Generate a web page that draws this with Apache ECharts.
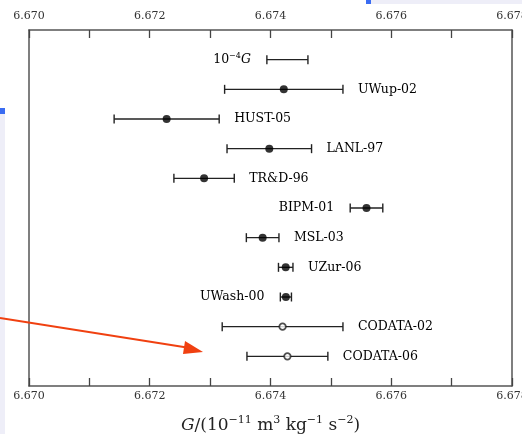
<!DOCTYPE html>
<html>
<head>
<meta charset="utf-8">
<script src="https://cdn.jsdelivr.net/npm/echarts@6/dist/echarts.min.js"></script>
<style>
html,body{margin:0;padding:0;background:#fff;}
#chart{width:522px;height:434px;}
</style>
</head>
<body>
<div id="chart"></div>
<script>
// ---- data ----
const experiments = ['10^-4 G', 'UWup-02', 'HUST-05', 'LANL-97', 'TR&D-96', 'BIPM-01', 'MSL-03', 'UZur-06', 'UWash-00', 'CODATA-02', 'CODATA-06'];
const gValues     = [6.67428, 6.67422, 6.67228, 6.67398, 6.67290, 6.67559, 6.67387, 6.674252, 6.674255, 6.67420, 6.67428];
const gErrors     = [0.00034, 0.00098, 0.00087, 0.00070, 0.00050, 0.00027, 0.00027, 0.00012, 0.000092, 0.00100, 0.00067];
const xTicks      = [6.670, 6.672, 6.674, 6.676, 6.678];
// which side each label sits on (layout)
const labelSide   = ['left', 'right', 'right', 'right', 'right', 'left', 'right', 'right', 'left', 'right', 'right'];

const FONT = 'DejaVu Serif';
const rows = experiments.map((n, i) => [gValues[i], gErrors[i], i + 1, i]);

function labelText(name) {
  if (name === '10^-4 G') return '{n|10}{s|−4}{it|G}';
  return '{n|' + name + '}';
}

const chart = echarts.init(document.getElementById('chart'), null, {renderer: 'canvas'});

const axisCommon = {
  type: 'value', min: 6.670, max: 6.678, interval: 0.001,
  axisLine: {show: true, onZero: false, lineStyle: {color: '#555', width: 1.5}},
  axisTick: {show: true, inside: true, length: 8, lineStyle: {color: '#444', width: 1.3}},
  splitLine: {show: false},
  axisLabel: {
    fontFamily: FONT, fontSize: 11, color: '#333',
    formatter: v => {
      const k = Math.round(v * 1000);
      return xTicks.some(t => Math.round(t * 1000) === k) ? (k / 1000).toFixed(3) : '';
    }
  }
};

const option = {
  animation: false,
  backgroundColor: '#fff',
  grid: {left: 29, right: 10, top: 30, bottom: 48, containLabel: false, outerBoundsMode: 'none'},
  xAxis: [
    Object.assign({}, axisCommon, {
      position: 'bottom',
      axisLabel: Object.assign({}, axisCommon.axisLabel, {margin: 5}),
      name: '{it|G}{n|/(10}{s|−11}{n| m}{s|3}{n| kg}{s|−1}{n| s}{s|−2}{n|)}',
      nameLocation: 'middle', nameGap: 29,
      nameTextStyle: {
        rich: {
          it: {fontFamily: FONT, fontStyle: 'italic', fontSize: 17, color: '#222', lineHeight: 22},
          n: {fontFamily: FONT, fontSize: 17, color: '#222', lineHeight: 22},
          s: {fontFamily: FONT, fontSize: 11, color: '#222', verticalAlign: 'top', lineHeight: 22}
        }
      }
    }),
    Object.assign({}, axisCommon, {
      position: 'top',
      axisLabel: Object.assign({}, axisCommon.axisLabel, {margin: 8})
    })
  ],
  yAxis: [
    {type: 'value', min: 0, max: 12, inverse: true, position: 'left',
     axisLine: {show: true, onZero: false, lineStyle: {color: '#555', width: 1.5}},
     axisTick: {show: false}, axisLabel: {show: false}, splitLine: {show: false}},
    {type: 'value', min: 0, max: 12, inverse: true, position: 'right',
     axisLine: {show: true, onZero: false, lineStyle: {color: '#555', width: 1.5}},
     axisTick: {show: false}, axisLabel: {show: false}, splitLine: {show: false}}
  ],
  series: [
    {
      type: 'custom',
      xAxisIndex: 0, yAxisIndex: 0,
      data: rows,
      renderItem: function (params, api) {
        const c = api.value(0), e = api.value(1), r = api.value(2), idx = api.value(3);
        const p0 = api.coord([c - e, r]);
        const p1 = api.coord([c + e, r]);
        const y = p0[1];
        const cap = 4.5;
        const side = labelSide[idx];
        const ls = {stroke: '#222', lineWidth: 1.4};
        const children = [
          {type: 'line', shape: {x1: p0[0], y1: y, x2: p1[0], y2: y}, style: ls},
          {type: 'line', shape: {x1: p0[0], y1: y - cap, x2: p0[0], y2: y + cap}, style: ls},
          {type: 'line', shape: {x1: p1[0], y1: y - cap, x2: p1[0], y2: y + cap}, style: ls},
          {type: 'text',
           x: side === 'right' ? p1[0] + 15 : p0[0] - 16, y: y,
           style: {
             text: labelText(experiments[idx]),
             align: side === 'right' ? 'left' : 'right',
             verticalAlign: 'middle',
             rich: {
               n: {fontFamily: FONT, fontSize: 12.5, color: '#1a1a1a', lineHeight: 16},
               it: {fontFamily: FONT, fontSize: 12.5, fontStyle: 'italic', color: '#1a1a1a', lineHeight: 16},
               s: {fontFamily: FONT, fontSize: 8, color: '#1a1a1a', verticalAlign: 'top', lineHeight: 16}
             }
           }}
        ];
        return {type: 'group', children: children};
      },
      z: 2
    },
    {
      type: 'scatter', xAxisIndex: 0, yAxisIndex: 0,
      symbol: 'circle', symbolSize: 8,
      itemStyle: {color: '#000'},
      data: rows.filter(d => experiments[d[3]] !== '10^-4 G' && !experiments[d[3]].startsWith('CODATA')).map(d => [d[0], d[2]]),
      z: 3
    },
    {
      type: 'scatter', xAxisIndex: 0, yAxisIndex: 0,
      symbol: 'circle', symbolSize: 6.5,
      itemStyle: {color: '#fff', borderColor: '#222', borderWidth: 1.8},
      data: rows.filter(d => experiments[d[3]].startsWith('CODATA')).map(d => [d[0], d[2]]),
      z: 3
    }
  ],
  graphic: [
    // screenshot background fragments
    {type: 'rect', shape: {x: 0, y: 108, width: 5, height: 326}, style: {fill: '#eeeef8'}, silent: true},
    {type: 'rect', shape: {x: 0, y: 108, width: 5, height: 6}, style: {fill: '#3a6cf2'}, silent: true},
    {type: 'rect', shape: {x: 366, y: 0, width: 156, height: 4}, style: {fill: '#eeeef8'}, silent: true},
    {type: 'rect', shape: {x: 366, y: 0, width: 5, height: 4}, style: {fill: '#3a6cf2'}, silent: true},
    // annotation arrow
    {type: 'line', shape: {x1: 0, y1: 318, x2: 190, y2: 348}, style: {stroke: '#f04010', lineWidth: 2}, z: 10, silent: true},
    {type: 'polygon', shape: {points: [[203, 352], [185, 341], [183, 354]]}, style: {fill: '#f04010'}, z: 10, silent: true}
  ]
};
chart.setOption(option);
</script>
</body>
</html>
